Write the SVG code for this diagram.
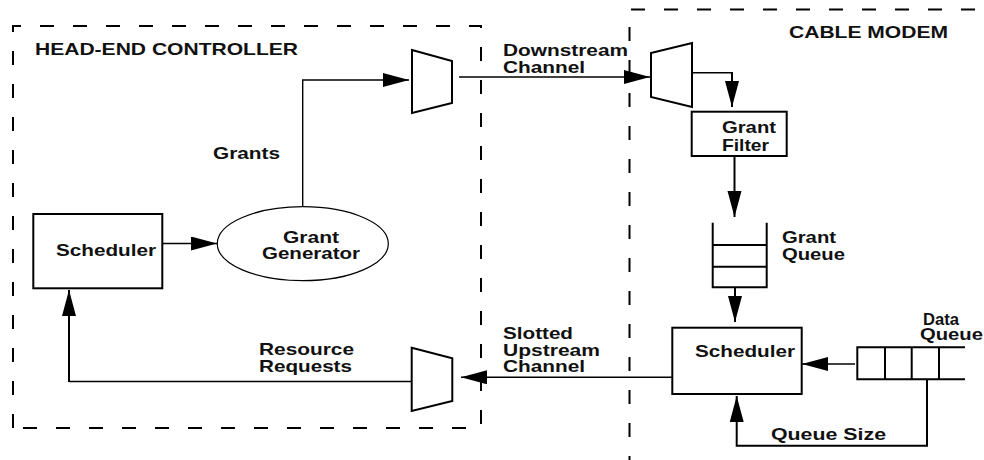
<svg xmlns="http://www.w3.org/2000/svg" width="984" height="460" viewBox="0 0 984 460">
<style>
text{font-family:"Liberation Sans",Arial,sans-serif;font-weight:bold;font-size:16.5px;fill:#111}
.box{fill:#fff;stroke:#000;stroke-width:2}
.mux{fill:#fff;stroke:#000;stroke-width:2}
.dash{fill:none;stroke:#000;stroke-width:2;stroke-dasharray:14 19}
.ln{fill:none;stroke:#000;stroke-width:1.4}
.thk{fill:none;stroke:#000;stroke-width:2}
</style>
<defs>
<marker id="ah" markerUnits="userSpaceOnUse" markerWidth="28" markerHeight="16" refX="26" refY="7" orient="auto">
<path d="M0,0 L26,7 L0,14 z" fill="#000"/>
</marker>
</defs>
<rect width="984" height="460" fill="#fff"/>
<g id="head-end">
<path class="dash" d="M13,428 V26 H481 V428 Z"/>
<text x="35" y="55" textLength="263" lengthAdjust="spacingAndGlyphs">HEAD-END CONTROLLER</text>
</g>
<g id="cable-modem">
<path class="dash" d="M629.5,470 V9.5 H990"/>
<text x="789" y="38" textLength="159" lengthAdjust="spacingAndGlyphs">CABLE MODEM</text>
</g>
<g id="connectors">
<path class="ln" d="M302.7,206.7 V80 H409" marker-end="url(#ah)"/>
<path class="ln" d="M162,243.5 H217" marker-end="url(#ah)"/>
<path class="ln" d="M459,77 H650" marker-end="url(#ah)"/>
<path class="ln" d="M692,72.7 H732" />
<path class="thk" d="M732,72 V107" marker-end="url(#ah)"/>
<path class="thk" d="M734.5,156 V217" marker-end="url(#ah)"/>
<path class="thk" d="M735,287 V322" marker-end="url(#ah)"/>
<path class="ln" d="M855,364 H802" marker-end="url(#ah)"/>
<path class="thk" d="M927,379 V445.7 H736.7 V396" marker-end="url(#ah)"/>
<path class="ln" d="M672.7,377.3 H461" marker-end="url(#ah)"/>
<path class="ln" d="M411,381.5 H69" />
<path class="thk" d="M69,382 V290" marker-end="url(#ah)"/>
</g>
<g id="scheduler-he">
<rect class="box" x="33.3" y="214" width="129" height="74.3"/>
<text x="56" y="256" textLength="100" lengthAdjust="spacingAndGlyphs">Scheduler</text>
</g>
<g id="grant-generator">
<ellipse cx="302.8" cy="243.7" rx="85.5" ry="37" fill="#fff" stroke="#000" stroke-width="1.2"/>
<text x="283" y="243" textLength="56" lengthAdjust="spacingAndGlyphs">Grant</text>
<text x="262" y="259" textLength="98" lengthAdjust="spacingAndGlyphs">Generator</text>
</g>
<g id="grants-label">
<text x="213" y="159" textLength="67" lengthAdjust="spacingAndGlyphs">Grants</text>
</g>
<g id="mux-down">
<path class="mux" d="M412,50 L452,61 L452,103 L412,113 Z"/>
</g>
<g id="mux-up">
<path class="mux" d="M411.7,347.7 L452.3,358.3 L452.3,401 L411.7,411 Z"/>
</g>
<g id="demux-cm">
<path class="mux" d="M651,53 L692,43 L692,107 L651,97 Z"/>
</g>
<g id="downstream-label">
<text x="503" y="56" textLength="125" lengthAdjust="spacingAndGlyphs">Downstream</text>
<text x="503" y="72.7" textLength="82" lengthAdjust="spacingAndGlyphs">Channel</text>
</g>
<g id="upstream-label">
<text x="503" y="339.3" textLength="70" lengthAdjust="spacingAndGlyphs">Slotted</text>
<text x="503" y="355.7" textLength="97" lengthAdjust="spacingAndGlyphs">Upstream</text>
<text x="503" y="371.7" textLength="82" lengthAdjust="spacingAndGlyphs">Channel</text>
</g>
<g id="resource-label">
<text x="259" y="355" textLength="95" lengthAdjust="spacingAndGlyphs">Resource</text>
<text x="259" y="371.7" textLength="93" lengthAdjust="spacingAndGlyphs">Requests</text>
</g>
<g id="grant-filter">
<rect class="box" x="691.7" y="111.7" width="95" height="44.3"/>
<text x="722" y="133.3" textLength="54" lengthAdjust="spacingAndGlyphs">Grant</text>
<text x="722" y="151" textLength="47" lengthAdjust="spacingAndGlyphs">Filter</text>
</g>
<g id="grant-queue">
<path class="thk" d="M712.7,222.7 V287.3 H766.7 V222.7 M712.7,245 H766.7 M712.7,266.7 H766.7"/>
<text x="782" y="242.7" textLength="54" lengthAdjust="spacingAndGlyphs">Grant</text>
<text x="782" y="260" textLength="63" lengthAdjust="spacingAndGlyphs">Queue</text>
</g>
<g id="scheduler-cm">
<rect class="box" x="672.3" y="327.7" width="129.4" height="66.3"/>
<text x="695" y="356.7" textLength="100" lengthAdjust="spacingAndGlyphs">Scheduler</text>
</g>
<g id="data-queue">
<path class="thk" d="M965,347.3 H857.3 V379.3 H965 M885,347.3 V379.3 M911.7,347.3 V379.3 M939,347.3 V379.3"/>
<text x="923" y="325" textLength="36" lengthAdjust="spacingAndGlyphs">Data</text>
<text x="920" y="340" textLength="63" lengthAdjust="spacingAndGlyphs">Queue</text>
</g>
<g id="queue-size-label">
<text x="771" y="440" textLength="115" lengthAdjust="spacingAndGlyphs">Queue Size</text>
</g>
</svg>
